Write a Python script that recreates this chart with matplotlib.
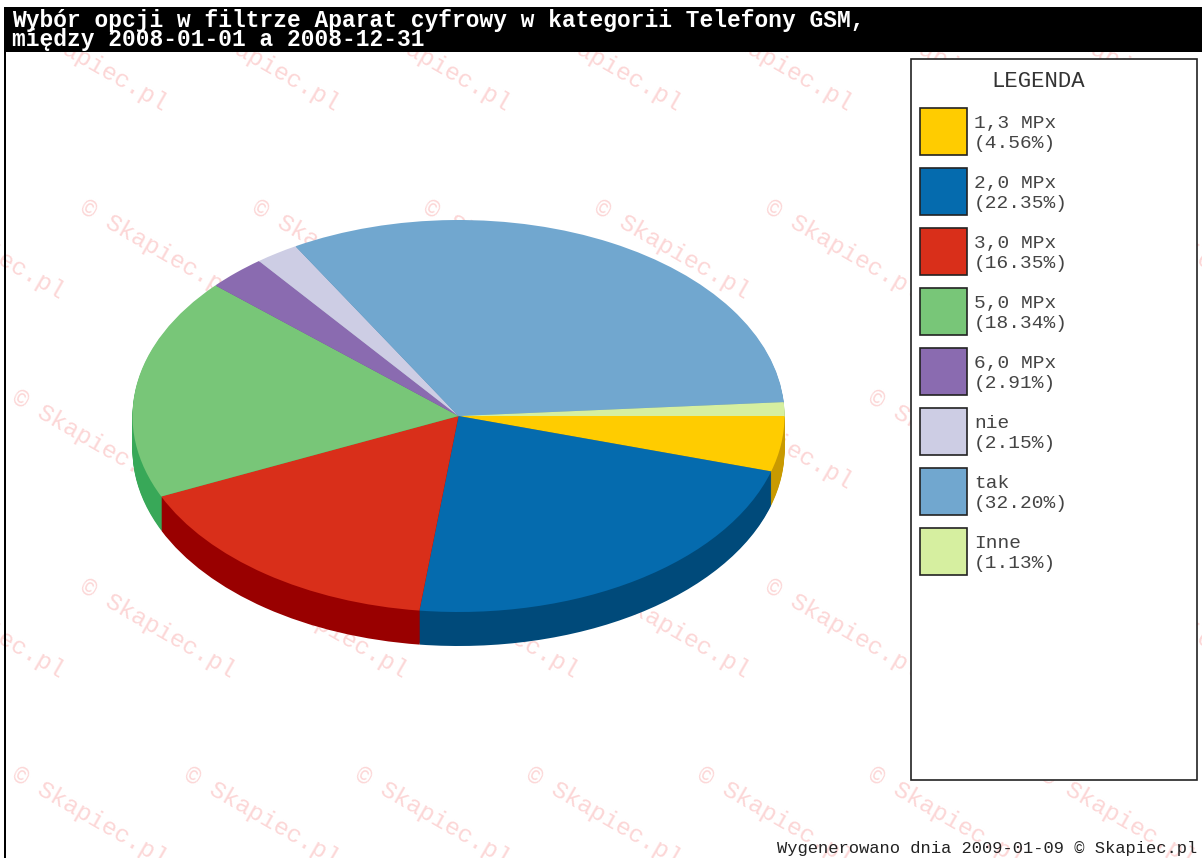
"""
Share of camera options chosen in the phone filter, as a tilted 3D style pie.
"""

import matplotlib
matplotlib.use("Agg")
import matplotlib.pyplot as plt
from matplotlib.patches import Rectangle

# Data
LABELS = ["1,3 MPx", "2,0 MPx", "3,0 MPx", "5,0 MPx", "6,0 MPx", "nie", "tak", "Inne"]
VALUES = [4.56, 22.35, 16.35, 18.34, 2.91, 2.15, 32.20, 1.13]
COLORS = ["#ffcc00", "#056bae", "#d92f1a", "#78c678", "#8a6bb0", "#cdcde4", "#71a7cf", "#d6efa0"]
SIDE_COLORS = ["#c99a00", "#004a7a", "#990000", "#38a858", "#6a4b90", "#a5a5c4", "#5187af", "#b6cf80"]

TITLE_LINES = [
    "Wybór opcji w filtrze Aparat cyfrowy w kategorii Telefony GSM,",
    "między 2008-01-01 a 2008-12-31",
]
FOOTER = "Wygenerowano dnia 2009-01-09 © Skapiec.pl"
WATERMARK = "© Skapiec.pl"

# Layout, in reference pixels
WIDTH, HEIGHT = 1202, 858
PIE_CX, PIE_CY = 458.5, 416
PIE_RX, PIE_RY = 326, 196
PIE_DEPTH = 34
MONO = "Liberation Mono"


def draw_watermarks(ax):
    """Repeat the pink watermark over the page, every second row shifted."""
    for row, y in enumerate([18, 206, 396, 585, 773]):
        x = 82 - 171.25 if row % 2 else 14 - 171.25
        while x < WIDTH:
            ax.text(x, y, WATERMARK, family=MONO, fontsize=17.6, color="#fcd6d6",
                    rotation=-30, rotation_mode="anchor", ha="left", va="center", zorder=1)
            x += 171.25


def draw_pie(fig):
    """Draw the pie in its own squashed axes, side wall first and then the top."""
    ax = fig.add_axes([(PIE_CX - PIE_RX) / WIDTH, 1 - (PIE_CY + PIE_RY) / HEIGHT,
                       2 * PIE_RX / WIDTH, 2 * PIE_RY / HEIGHT])
    for step in range(PIE_DEPTH, 0, -1):
        ax.pie(VALUES, colors=SIDE_COLORS, startangle=0, counterclock=False,
               center=(0, -step / PIE_RY), wedgeprops={"linewidth": 0})
    ax.pie(VALUES, colors=COLORS, startangle=0, counterclock=False,
           wedgeprops={"linewidth": 0})
    ax.set_aspect("auto")
    ax.set_xlim(-1, 1)
    ax.set_ylim(-1, 1)
    ax.patch.set_visible(False)
    for patch in ax.patches:
        patch.set_clip_on(False)


def draw_legend(ax):
    ax.add_patch(Rectangle((911, 59), 286, 721, facecolor="white", edgecolor="#222222",
                           linewidth=1.2, zorder=3))
    ax.text(1038, 87, "LEGENDA", family=MONO, fontsize=16, color="#333333",
            ha="center", va="baseline", zorder=4)
    for i, (label, value, color) in enumerate(zip(LABELS, VALUES, COLORS)):
        top = 108 + 60 * i
        ax.add_patch(Rectangle((920, top), 47, 47, facecolor=color, edgecolor="#222222",
                               linewidth=1.2, zorder=4))
        ax.text(974, top + 20, label, family=MONO, fontsize=14, color="#444444",
                ha="left", va="baseline", zorder=4)
        ax.text(974, top + 40, f"({value:.2f}%)", family=MONO, fontsize=14, color="#444444",
                ha="left", va="baseline", zorder=4)


def draw_header(ax):
    ax.add_patch(Rectangle((5, 7), WIDTH - 5, 45, facecolor="black", edgecolor="none", zorder=3))
    ax.add_patch(Rectangle((4, 7), 2, HEIGHT - 7, facecolor="black", edgecolor="none", zorder=3))
    ax.text(12, 27, TITLE_LINES[0], family=MONO, fontweight="bold", fontsize=16.5,
            color="white", ha="left", va="baseline", zorder=4)
    ax.text(12, 46, TITLE_LINES[1], family=MONO, fontweight="bold", fontsize=16.5,
            color="white", ha="left", va="baseline", zorder=4)


def main():
    fig = plt.figure(figsize=(WIDTH / 100, HEIGHT / 100), dpi=100, facecolor="white")

    page = fig.add_axes([0, 0, 1, 1])
    page.set_xlim(0, WIDTH)
    page.set_ylim(HEIGHT, 0)
    page.axis("off")

    draw_watermarks(page)
    draw_pie(fig)
    draw_legend(page)
    draw_header(page)
    page.text(1197, 853, FOOTER, family=MONO, fontsize=12.3, color="#222222",
              ha="right", va="baseline", zorder=4)

    plt.savefig("out.png", dpi=100)
    plt.close()


if __name__ == "__main__":
    main()
